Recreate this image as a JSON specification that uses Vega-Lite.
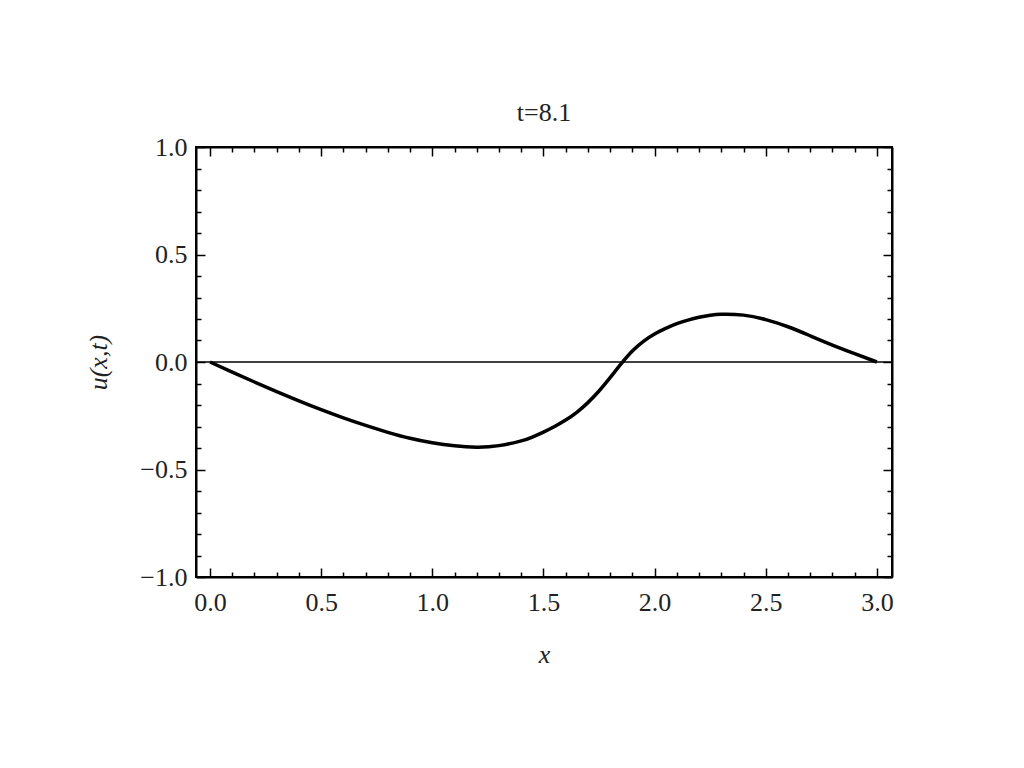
{
  "$schema": "https://vega.github.io/schema/vega-lite/v6.json",
  "width": 696,
  "height": 430,
  "autosize": {"type": "none"},
  "padding": {"left": 196, "top": 147, "right": 132, "bottom": 191},
  "background": "white",
  "title": {
    "text": "t=8.1",
    "font": "Liberation Serif",
    "fontSize": 26,
    "fontWeight": "normal",
    "color": "#222",
    "anchor": "middle",
    "baseline": "alphabetic",
    "offset": -13
  },
  "config": {
    "view": {"stroke": "black", "strokeWidth": 2},
    "axis": {
      "grid": false,
      "domainColor": "black",
      "domainWidth": 2,
      "tickColor": "black",
      "tickWidth": 1.5,
      "labelFont": "Liberation Serif",
      "labelFontSize": 26,
      "labelColor": "#222",
      "labelOverlap": false,
      "labelFlush": false,
      "titleFont": "Liberation Serif",
      "titleFontSize": 26,
      "titleFontStyle": "italic",
      "titleFontWeight": "normal",
      "titleColor": "#222"
    }
  },
  "data": {
    "values": [
      {"x": 0.0, "u": 0.0},
      {"x": 0.1, "u": -0.047},
      {"x": 0.2, "u": -0.093},
      {"x": 0.3, "u": -0.138},
      {"x": 0.4, "u": -0.181},
      {"x": 0.5, "u": -0.222},
      {"x": 0.6, "u": -0.26},
      {"x": 0.7, "u": -0.295},
      {"x": 0.8, "u": -0.327},
      {"x": 0.9, "u": -0.355},
      {"x": 1.0, "u": -0.376},
      {"x": 1.1, "u": -0.39},
      {"x": 1.2, "u": -0.396},
      {"x": 1.3, "u": -0.389},
      {"x": 1.4, "u": -0.367},
      {"x": 1.45, "u": -0.349},
      {"x": 1.5, "u": -0.326},
      {"x": 1.55, "u": -0.3},
      {"x": 1.6, "u": -0.27},
      {"x": 1.65, "u": -0.234},
      {"x": 1.7, "u": -0.189},
      {"x": 1.75, "u": -0.135},
      {"x": 1.8, "u": -0.073},
      {"x": 1.85, "u": -0.008},
      {"x": 1.9, "u": 0.051},
      {"x": 1.95, "u": 0.096},
      {"x": 2.0, "u": 0.13},
      {"x": 2.05, "u": 0.156},
      {"x": 2.1, "u": 0.178},
      {"x": 2.15, "u": 0.195},
      {"x": 2.2, "u": 0.208},
      {"x": 2.25, "u": 0.217},
      {"x": 2.3, "u": 0.222},
      {"x": 2.4, "u": 0.218},
      {"x": 2.5, "u": 0.197},
      {"x": 2.6, "u": 0.164},
      {"x": 2.7, "u": 0.122},
      {"x": 2.8, "u": 0.079},
      {"x": 2.9, "u": 0.039},
      {"x": 3.0, "u": 0.0}
    ]
  },
  "layer": [
    {
      "data": {"values": [{"zero": 0}]},
      "mark": {"type": "rule", "color": "black", "strokeWidth": 1.5},
      "encoding": {
        "y": {"field": "zero", "type": "quantitative", "scale": {"domain": [-1, 1], "nice": false, "zero": false}, "axis": null}
      }
    },
    {
      "mark": {"type": "line", "color": "black", "strokeWidth": 3.5, "interpolate": "natural"},
      "encoding": {
        "x": {
          "field": "x", "type": "quantitative",
          "scale": {"domain": [-0.063, 3.068], "nice": false, "zero": false},
          "axis": {
            "orient": "bottom",
            "title": "x",
            "titlePadding": 22,
            "values": [0,0.1,0.2,0.3,0.4,0.5,0.6,0.7,0.8,0.9,1,1.1,1.2,1.3,1.4,1.5,1.6,1.7,1.8,1.9,2,2.1,2.2,2.3,2.4,2.5,2.6,2.7,2.8,2.9,3],
            "labelExpr": "abs(datum.value*2 - round(datum.value*2)) < 0.001 ? format(datum.value, '.1f') : ''",
            "tickSize": {"condition": {"test": "abs(datum.value*2 - round(datum.value*2)) < 0.001", "value": -9}, "value": -5},
            "labelPadding": 21
          }
        },
        "y": {
          "field": "u", "type": "quantitative",
          "scale": {"domain": [-1, 1], "nice": false, "zero": false},
          "axis": {
            "orient": "left",
            "title": "u(x,t)",
            "titlePadding": 28,
            "values": [-1,-0.9,-0.8,-0.7,-0.6,-0.5,-0.4,-0.3,-0.2,-0.1,0,0.1,0.2,0.3,0.4,0.5,0.6,0.7,0.8,0.9,1],
            "labelExpr": "abs(datum.value*2 - round(datum.value*2)) < 0.001 ? format(datum.value, '.1f') : ''",
            "tickSize": {"condition": {"test": "abs(datum.value*2 - round(datum.value*2)) < 0.001", "value": -9}, "value": -5},
            "labelPadding": 18
          }
        }
      }
    },
    {
      "mark": {"type": "line", "strokeOpacity": 0},
      "encoding": {
        "x": {
          "field": "x", "type": "quantitative",
          "axis": {
            "orient": "top",
            "title": null,
            "labels": false,
            "values": [0,0.1,0.2,0.3,0.4,0.5,0.6,0.7,0.8,0.9,1,1.1,1.2,1.3,1.4,1.5,1.6,1.7,1.8,1.9,2,2.1,2.2,2.3,2.4,2.5,2.6,2.7,2.8,2.9,3],
            "tickSize": {"condition": {"test": "abs(datum.value*2 - round(datum.value*2)) < 0.001", "value": -9}, "value": -5}
          }
        },
        "y": {
          "field": "u", "type": "quantitative",
          "axis": {
            "orient": "right",
            "title": null,
            "labels": false,
            "values": [-1,-0.9,-0.8,-0.7,-0.6,-0.5,-0.4,-0.3,-0.2,-0.1,0,0.1,0.2,0.3,0.4,0.5,0.6,0.7,0.8,0.9,1],
            "tickSize": {"condition": {"test": "abs(datum.value*2 - round(datum.value*2)) < 0.001", "value": -9}, "value": -5}
          }
        }
      }
    }
  ],
  "resolve": {"axis": {"x": "independent", "y": "independent"}}
}
